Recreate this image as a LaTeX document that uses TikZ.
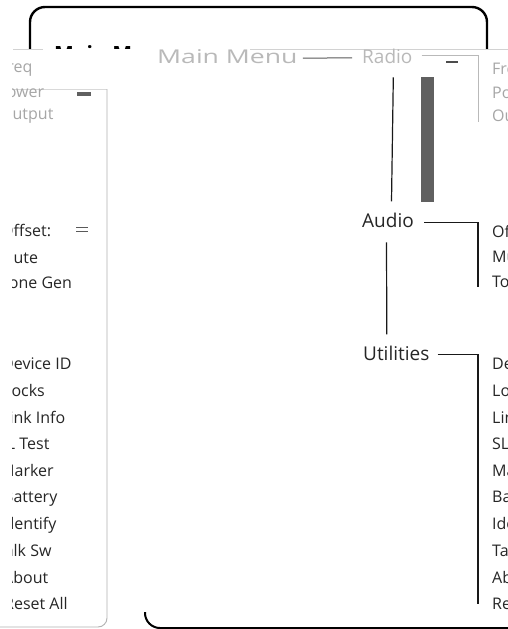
\documentclass[tikz,border=0pt]{standalone}
\usepackage{fontspec}
\setmainfont{Open Sans}
\begin{document}
\begin{tikzpicture}[x=1pt,y=-1pt,
  item/.style={anchor=base west, font=\fontsize{16}{19}\selectfont, inner sep=0pt, text=black!85},
  ghostitem/.style={item, text=gray!70},
  head/.style={anchor=base west, font=\fontsize{19}{23}\selectfont, inner sep=0pt, text=black!85},
  ghosthead/.style={head, text=gray!55},
  conn/.style={line width=1.2pt, black!90},
  ghostconn/.style={line width=0.9pt, gray!55},
  frame/.style={line width=2.4pt, black, rounded corners=15pt},
  panel/.style={line width=0.9pt, gray!60},
  barfill/.style={fill=gray!75!black}
]
\useasboundingbox (0,0) rectangle (508,629);
% top frame and hidden title
\draw[frame] (30,52) |- (487,7) -- (487,52);
\node[anchor=base west, inner sep=0pt, font=\bfseries\fontsize{21}{25}\selectfont] (title) at (54,61) {Main Menu};
\fill[white] (0,49) rectangle (508,629);
\draw[line width=0.8pt, gray!35] (13,49) -- (43,49) (250,49) -- (508,49);
% bottom frame
\draw[line width=2pt, black, rounded corners=15pt] (145,612) |- (510,628);
% left panel
\draw[panel, gray!30] (12,89) -- (107,89);
\draw[panel, rounded corners=9pt] (107,89) -- (107,627) -- (-2,627);

% headings
\node[ghosthead] (mm) at (157,63) {\scalebox{1.4}[1]{Main Menu}};
\node[ghosthead] (radio) at (362,63) {Radio};
\node[head] (audio) at (362,227) {Audio};
\node[head] (util) at (363,360) {Utilities};

% bracket ends
\coordinate (rb) at (478,122);
\coordinate (ab) at (478,287);
\coordinate (ub) at (478,604);

% connectors
\draw[line width=1pt, gray!70!black] ([xshift=5pt,yshift=-2pt]mm.east) -- ([xshift=-10pt,yshift=-2pt]radio.west);
\draw[ghostconn] ([xshift=9pt]radio.east) -| (rb);
\draw[line width=1.6pt, gray!60!black] (446,62) -- (458,62);
\draw[conn] ([xshift=6pt,yshift=-14pt]radio.south) -- ([xshift=3.5pt,yshift=11pt]audio.north);
\fill[barfill] (421,77) rectangle (434,202);
\draw[conn] ([xshift=10pt,yshift=-3pt]audio.east) -| (ab);
\draw[conn] ([xshift=-1.5pt,yshift=-15pt]audio.south) -- ([xshift=-9.5pt,yshift=11pt]util.north);
\draw[conn] ([xshift=8pt,yshift=-2pt]util.east) -| (ub);

% left column (clipped at the panel's left edge)
\begin{scope}
\clip (12,50) rectangle (107,626);
\node[ghostitem] (lf1) at (-1,72) {Freq};
\node[ghostitem] (lf2) at (-3,97) {Power};
\node[ghostitem] (lf3) at (0,119) {Output};
\node[item] (la1) at (1,236) {Offset:};
\node[item] (la2) at (-1,263) {Mute};
\node[item] (la3) at (1,288) {Tone Gen};
\node[item] (lu1) at (2,369) {Device ID};
\node[item] (lu2) at (3,396) {Locks};
\node[item] (lu3) at (1,423) {Link Info};
\node[item] (lu4) at (-2,449) {SL Test};
\node[item] (lu5) at (0,476) {Marker};
\node[item] (lu6) at (3,502) {Battery};
\node[item] (lu7) at (0,529) {Identify};
\node[item] (lu8) at (-3,556) {Talk Sw};
\node[item] (lu9) at (3,583) {About};
\node[item] (lu10) at (4,609) {Reset All};
\end{scope}
\fill[barfill] (77,92) rectangle (91,96);
\draw[line width=0.9pt, gray!70!black] (76,227) -- (88,227) (76,231) -- (88,231);

% right column (clipped by page edge)
\node[ghostitem] (rf1) at (492,74) {Frequency};
\node[ghostitem] (rf2) at (492,98) {Power};
\node[ghostitem] (rf3) at (492,121) {Output};
\node[item] (ra1) at (492,237) {Offset};
\node[item] (ra2) at (492,262) {Mute};
\node[item] (ra3) at (492,287) {Tone Gen};
\node[item] (ru1) at (492,369) {Device ID};
\node[item] (ru2) at (492,396) {Locks};
\node[item] (ru3) at (492,423) {Link Info};
\node[item] (ru4) at (492,449) {SL Test};
\node[item] (ru5) at (492,476) {Marker};
\node[item] (ru6) at (492,502) {Battery};
\node[item] (ru7) at (492,529) {Identify};
\node[item] (ru8) at (492,556) {Talk Sw};
\node[item] (ru9) at (492,583) {About};
\node[item] (ru10) at (492,609) {Reset All};
\end{tikzpicture}
\end{document}
